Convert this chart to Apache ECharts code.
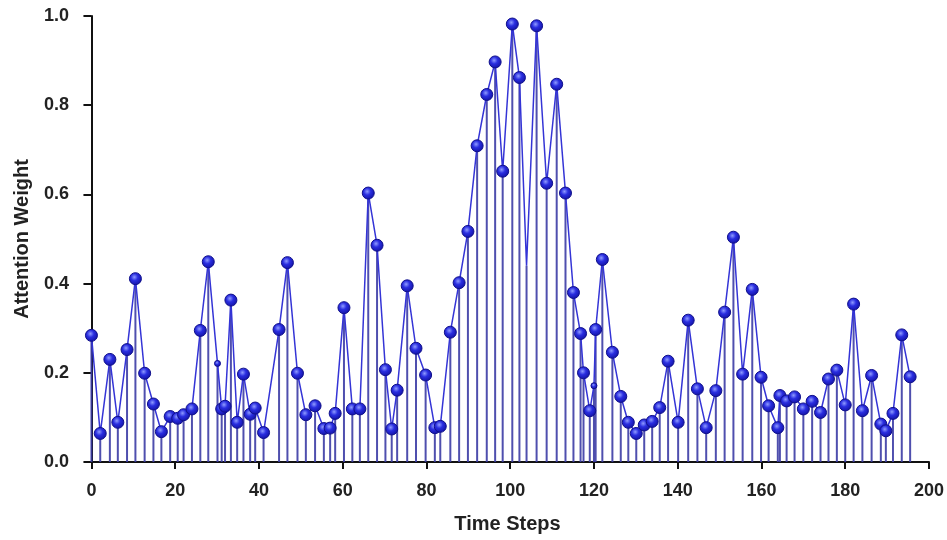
<!DOCTYPE html>
<html>
<head>
<meta charset="utf-8">
<script src="https://cdn.jsdelivr.net/npm/echarts@6/dist/echarts.min.js"></script>
<style>
  html, body { margin: 0; padding: 0; background: #fff; }
  #chart { width: 947px; height: 540px; }
</style>
</head>
<body>
<div id="chart"></div>
<script>
// time step of every point
var timeSteps = [
	0.0, 2.1, 4.4, 6.3, 8.5, 10.5, 12.7, 14.8, 16.7, 18.8,
	20.6, 22.0, 24.0, 26.0, 27.9, 30.1, 31.1, 31.9, 33.3, 34.8,
	36.3, 37.9, 39.1, 41.1, 44.8, 46.8, 49.2, 51.2, 53.4, 55.5,
	57.0, 58.2, 60.3, 62.3, 64.1, 66.1, 68.2, 70.2, 71.7, 73.0,
	75.4, 77.5, 79.8, 82.0, 83.3, 85.7, 87.8, 89.9, 92.1, 94.4,
	96.4, 98.2, 100.5, 102.2, 103.9, 106.3, 108.7, 111.1, 113.2, 115.1,
	116.8, 117.5, 119.0, 120.0, 120.4, 122.0, 124.4, 126.4, 128.2, 130.1,
	132.0, 133.9, 135.7, 137.7, 140.1, 142.5, 144.7, 146.8, 149.1, 151.2,
	153.3, 155.5, 157.8, 159.9, 161.7, 163.9, 164.4, 166.0, 167.9, 170.0,
	172.1, 174.1, 176.0, 178.0, 180.0, 182.0, 184.1, 186.3, 188.5, 189.7,
	191.4, 193.5, 195.5
];
// attention weight of every point
var weights = [
	0.284, 0.064, 0.230, 0.089, 0.252, 0.411, 0.199, 0.130, 0.068, 0.102,
	0.098, 0.106, 0.119, 0.295, 0.449, 0.221, 0.119, 0.125, 0.363, 0.089,
	0.197, 0.107, 0.121, 0.066, 0.297, 0.447, 0.199, 0.106, 0.126, 0.075,
	0.076, 0.109, 0.346, 0.119, 0.119, 0.603, 0.486, 0.207, 0.074, 0.161,
	0.395, 0.255, 0.195, 0.077, 0.080, 0.291, 0.402, 0.517, 0.709, 0.824,
	0.897, 0.652, 0.982, 0.862, 0.440, 0.978, 0.625, 0.847, 0.603, 0.380,
	0.288, 0.200, 0.115, 0.171, 0.297, 0.454, 0.246, 0.147, 0.089, 0.064,
	0.083, 0.091, 0.122, 0.226, 0.089, 0.318, 0.164, 0.077, 0.160, 0.336,
	0.504, 0.197, 0.387, 0.190, 0.126, 0.077, 0.149, 0.137, 0.146, 0.119,
	0.136, 0.111, 0.186, 0.206, 0.128, 0.354, 0.115, 0.194, 0.085, 0.070,
	0.109, 0.285, 0.191
];
var xTicks = [0, 20, 40, 60, 80, 100, 120, 140, 160, 180, 200];
var smallMarkers = [30.1, 120.0];   // points drawn with a tiny dot
var hiddenMarkers = [103.9];        // points with no dot at all

var points = [];
for (var i = 0; i < timeSteps.length; i++) {
	points.push([timeSteps[i], weights[i]]);
}

var chart = echarts.init(document.getElementById('chart'));
var font = 'Liberation Sans, Arial, sans-serif';

var option = {
	animation: false,
	backgroundColor: '#ffffff',
	grid: { left: 86, right: 15, top: 16, bottom: 78 },
	xAxis: {
		type: 'value',
		min: -1.3,
		max: 200,
		name: 'Time Steps',
		nameLocation: 'middle',
		nameGap: 52,
		nameTextStyle: { fontFamily: font, fontWeight: 'bold', fontSize: 20, color: '#222' },
		splitLine: { show: false },
		axisLine: { show: true, lineStyle: { color: '#111', width: 2 } },
		axisTick: { show: true, length: 7, lineStyle: { color: '#111', width: 2 }, customValues: xTicks },
		axisLabel: {
			customValues: xTicks,
			margin: 20,
			fontFamily: font, fontWeight: 'bold', fontSize: 18, color: '#222'
		}
	},
	yAxis: {
		type: 'value',
		min: 0,
		max: 1,
		interval: 0.2,
		name: 'Attention Weight',
		nameLocation: 'middle',
		nameGap: 54,
		nameTextStyle: { fontFamily: font, fontWeight: 'bold', fontSize: 20, color: '#222' },
		splitLine: { show: false },
		axisLine: { show: true, lineStyle: { color: '#111', width: 2 } },
		axisTick: { show: true, length: 8, lineStyle: { color: '#111', width: 2 } },
		axisLabel: {
			margin: 17,
			fontFamily: font, fontWeight: 'bold', fontSize: 18, color: '#222',
			formatter: function (v) { return v.toFixed(1); }
		}
	},
	series: [
		{ // stems
			type: 'bar',
			data: points,
			barWidth: 2,
			itemStyle: { color: 'rgba(60, 60, 165, 0.9)' },
			silent: true,
			z: 2
		},
		{ // connecting line with ball markers
			type: 'line',
			data: points,
			symbol: 'circle',
			symbolSize: function (val) {
				if (hiddenMarkers.indexOf(val[0]) >= 0) return 0;
				if (smallMarkers.indexOf(val[0]) >= 0) return 6;
				return 12;
			},
			showAllSymbol: true,
			lineStyle: { color: '#3434d6', width: 1.5 },
			itemStyle: {
				color: {
					type: 'radial', x: 0.42, y: 0.38, r: 0.6,
					colorStops: [
						{ offset: 0, color: '#8f9bff' },
						{ offset: 0.45, color: '#2a2ee0' },
						{ offset: 1, color: '#1414a8' }
					]
				},
				borderColor: '#10108c',
				borderWidth: 1
			},
			z: 3
		}
	]
};
chart.setOption(option);
</script>
</body>
</html>
